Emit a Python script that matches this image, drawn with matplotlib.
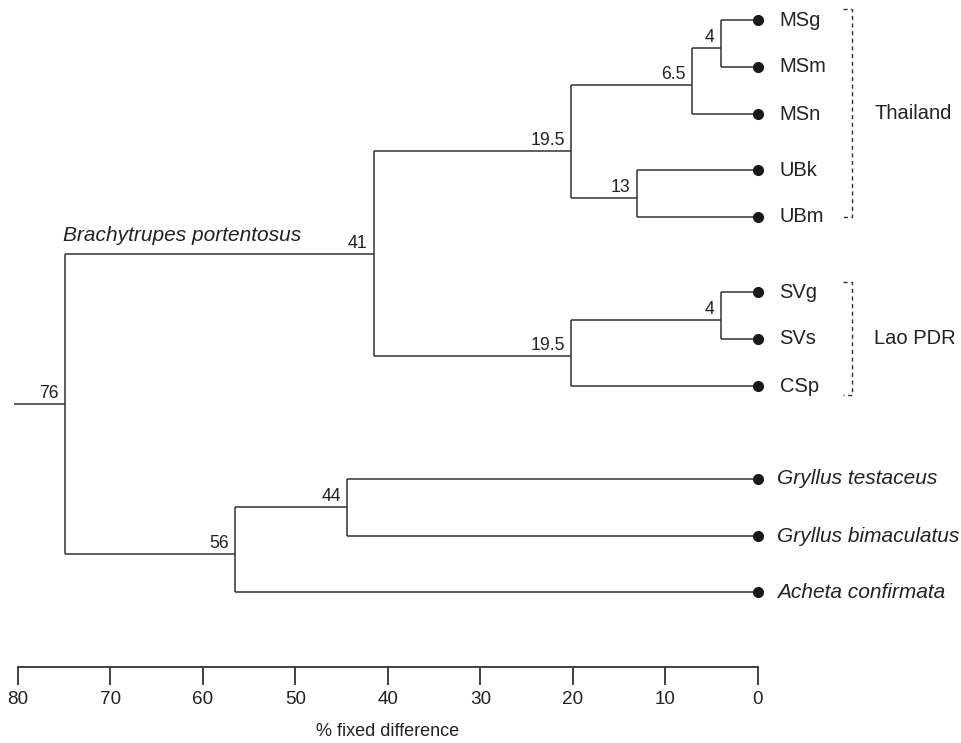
import matplotlib
matplotlib.use("Agg")
import matplotlib.pyplot as plt

plt.rcParams['font.family'] = ['Liberation Sans', 'DejaVu Sans']

# ---- data ----
leaf_names = ['MSg', 'MSm', 'MSn', 'UBk', 'UBm', 'SVg', 'SVs', 'CSp',
              'Gryllus testaceus', 'Gryllus bimaculatus', 'Acheta confirmata']
leaf_italic = [False] * 8 + [True, True, True]
leaf_y = [20, 67, 114, 170, 217, 292, 339, 386, 479, 536, 592]

# internal nodes: name, height (% fixed difference), label, y, children
node_names = ['MS4', 'MS65', 'UB13', 'T195', 'SV4', 'L195', 'N41', 'N44', 'N56', 'ROOT']
node_heights = [4, 7.1, 13.1, 20.2, 4, 20.2, 41.5, 44.4, 56.5, 74.9]
node_labels = ['4', '6.5', '13', '19.5', '4', '19.5', '41', '44', '56', '76']
node_y = [48, 85, 198, 151, 320, 356, 254, 507, 554, 404]
node_children = [['MSg', 'MSm'], ['MS4', 'MSn'], ['UBk', 'UBm'], ['MS65', 'UB13'],
                 ['SVg', 'SVs'], ['SV4', 'CSp'], ['T195', 'L195'],
                 ['Gryllus testaceus', 'Gryllus bimaculatus'], ['N44', 'Acheta confirmata'],
                 ['N41', 'N56']]
root_stem_start = 80.4

groups = ['Thailand', 'Lao PDR']
group_members = [['MSg', 'UBm'], ['SVg', 'CSp']]

xticks = [0, 10, 20, 30, 40, 50, 60, 70, 80]
xlabel = '% fixed difference'
clade_label = 'Brachytrupes portentosus'

# ---- figure ----
line_c = '#333333'
fig = plt.figure(figsize=(9.61, 7.43), dpi=100)
ax = fig.add_axes([0, 0, 1, 1])
ax.set_xlim(81.91, -21.94)
ax.set_ylim(743, 0)

pos = {}
for n, y in zip(leaf_names, leaf_y):
    pos[n] = (0.0, y)
for n, h, y in zip(node_names, node_heights, node_y):
    pos[n] = (h, y)

lw = 1.1
for n, h, lab, y, ch in zip(node_names, node_heights, node_labels, node_y, node_children):
    ys = [pos[c][1] for c in ch]
    ax.plot([h, h], [min(ys), max(ys)], color=line_c, lw=lw, solid_capstyle='butt')
    for c in ch:
        cx, cy = pos[c]
        ax.plot([h, cx], [cy, cy], color=line_c, lw=lw, solid_capstyle='butt')
    ax.annotate(lab, (h, y), xytext=(-4.5, 4.3), textcoords='offset points',
                ha='right', va='baseline', fontsize=12.7, color='#222222')

# root stem
rh, ry = pos['ROOT']
ax.plot([root_stem_start, rh], [ry, ry], color=line_c, lw=lw, solid_capstyle='butt')

# leaves
for n, y, it in zip(leaf_names, leaf_y, leaf_italic):
    ax.plot(0, y, 'o', color='#1a1a1a', ms=7)
    ax.annotate(n, (0, y), xytext=(13.5 if it else 15.5, 0), textcoords='offset points',
                ha='left', va='center', fontsize=15 if it else 14.5,
                style='italic' if it else 'normal', color='#222222')

# clade label
ax.text(80 - (63 - 17.7) / 9.254, 241, clade_label, style='italic', fontsize=15,
        ha='left', va='baseline', color='#222222')

# group brackets
bx = -10.19
for g, (a, b) in zip(groups, group_members):
    ya = pos[a][1] - 11 if g == 'Thailand' else pos[a][1] - 10
    yb = pos[b][1] + (0 if g == 'Thailand' else 9)
    ax.plot([bx + 1.0, bx, bx, bx + 1.0], [ya, ya, yb, yb], color=line_c, lw=1.0,
            ls=(0, (3, 2.5)))
    ax.text(bx - 2.38, (ya + yb) / 2 + 0.5, g, ha='left', va='center', fontsize=14.5,
            color='#222222')

# axis
for s in ['top', 'left', 'right']:
    ax.spines[s].set_visible(False)
ax.spines['bottom'].set_position(('data', 667))
ax.spines['bottom'].set_bounds(0, 80)
ax.spines['bottom'].set_color(line_c)
ax.spines['bottom'].set_linewidth(1.3)
ax.set_xticks(xticks)
ax.set_xticklabels([str(t) for t in xticks])
ax.tick_params(axis='x', direction='out', length=13, width=1.3, pad=4.5,
               labelsize=13.6, colors=line_c, labelcolor='#222222')
ax.set_yticks([])
ax.text(40, 731, xlabel, ha='center', va='center', fontsize=13, color='#222222')

fig.savefig('out.png', dpi=100)
